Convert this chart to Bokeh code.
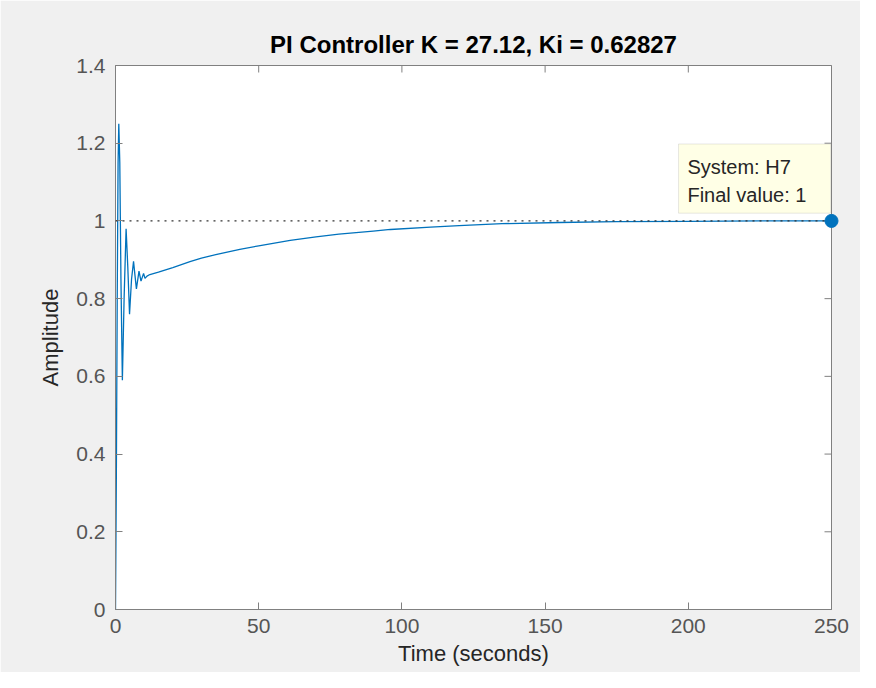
import math
from bokeh.plotting import figure
from bokeh.models import FixedTicker, Span, BoxAnnotation, Label, Range1d
from bokeh.embed import file_html
from bokeh.resources import INLINE

# ---- data ----
time_s = [0, 0.3, 0.6, 0.9, 1.15, 1.5, 1.9, 2.4, 3.0, 3.7, 4.3, 4.9, 5.6, 6.3, 6.8,
          7.3, 8.2, 8.9, 9.8, 10.3, 11, 12, 15, 20, 26, 30, 35, 43.4, 50, 61, 70,
          78, 90, 96, 110, 120, 135, 155, 175, 200, 225, 250]
amplitude = [0, 0.35, 0.8, 1.15, 1.25, 1.15, 0.85, 0.59, 0.8, 0.98, 0.88, 0.76, 0.85,
             0.896, 0.86, 0.825, 0.871, 0.845, 0.865, 0.852, 0.858, 0.862, 0.868, 0.880,
             0.895, 0.904, 0.913, 0.927, 0.936, 0.950, 0.959, 0.966, 0.974, 0.978, 0.984,
             0.988, 0.993, 0.996, 0.998, 0.999, 1.0, 1.0]
x_ticks = [0, 50, 100, 150, 200, 250]
y_ticks = [0, 0.2, 0.4, 0.6, 0.8, 1.0, 1.2, 1.4]
title_text = "PI Controller K = 27.12, Ki = 0.62827"
system_name = "H7"
final_time = 250
final_value = 1

FONT = "Liberation Sans"
LINE = "#0072BD"
AXC = "#808080"
X0, X1 = x_ticks[0], x_ticks[-1]
Y0, Y1 = y_ticks[0], y_ticks[-1]

p = figure(width=860, height=672, output_backend="svg", toolbar_location=None,
           x_range=Range1d(X0, X1), y_range=Range1d(Y0, Y1),
           min_border_left=115, min_border_right=29, min_border_top=65,
           min_border_bottom=63, title=title_text)
p.border_fill_color = "#f0f0f0"
p.background_fill_color = "white"
p.outline_line_color = AXC
p.outline_line_width = 1
p.grid.visible = False

p.title.text_font = FONT
p.title.text_font_size = "24px"
p.title.text_font_style = "bold"
p.title.text_color = "#000000"
p.title.align = "center"
p.title.offset = -3
p.title.text_line_height = 1.6
p.title.standoff = 15

for ax, ticks in ((p.xaxis[0], x_ticks), (p.yaxis[0], y_ticks)):
    ax.ticker = FixedTicker(ticks=ticks)
    ax.major_label_overrides = {t: f"{t:g}" for t in ticks}
    ax.axis_line_color = AXC
    ax.major_tick_line_color = AXC
    ax.major_tick_in = 7
    ax.major_tick_out = 0
    ax.minor_tick_line_color = None
    ax.major_label_text_font = FONT
    ax.major_label_text_color = "#555555"
    ax.major_label_text_font_size = "21px"
    ax.axis_label_text_font = FONT
    ax.axis_label_text_font_size = "22px"
    ax.axis_label_text_font_style = "normal"
    ax.axis_label_text_color = "#262626"

p.xaxis.major_label_standoff = 9
p.yaxis.major_label_standoff = 10
p.xaxis.axis_label_standoff = 5
p.yaxis.axis_label_standoff = 10
p.xaxis.axis_label = "Time (seconds)"
p.yaxis.axis_label = "Amplitude"

# inward ticks on the top and right edges of the box (clipped to the frame)
p.scatter(x_ticks, [Y1] * len(x_ticks), marker="dash", angle=math.pi / 2,
          size=14, line_color=AXC, line_width=1)
p.scatter([X1] * len(y_ticks), y_ticks, marker="dash", angle=0,
          size=14, line_color=AXC, line_width=1)

# steady-state reference line
p.add_layout(Span(location=final_value, dimension="width", line_color="#333333",
                  line_dash="2 5", line_width=1.2))

# step response
p.line(time_s, amplitude, line_color=LINE, line_width=1.3)

# data tip marker
p.scatter([final_time], [final_value], size=13, color=LINE, level="overlay")

# data tip box
p.add_layout(BoxAnnotation(left=final_time - 53.4, right=final_time - 0.3,
                           bottom=final_value + 0.02, top=final_value + 0.198,
                           fill_color="#ffffe6", fill_alpha=1.0,
                           line_color="#b0b0b0", line_width=1))
p.add_layout(Label(x=final_time - 50.3, y=final_value + 0.14,
                   text=f"System: {system_name}", text_font=FONT,
                   text_font_size="20px", text_color="#262626",
                   text_baseline="alphabetic"))
p.add_layout(Label(x=final_time - 50.3, y=final_value + 0.067,
                   text=f"Final value: {final_value:g}", text_font=FONT,
                   text_font_size="20px", text_color="#262626",
                   text_baseline="alphabetic"))

open("out.html", "w").write(file_html(p, INLINE))
